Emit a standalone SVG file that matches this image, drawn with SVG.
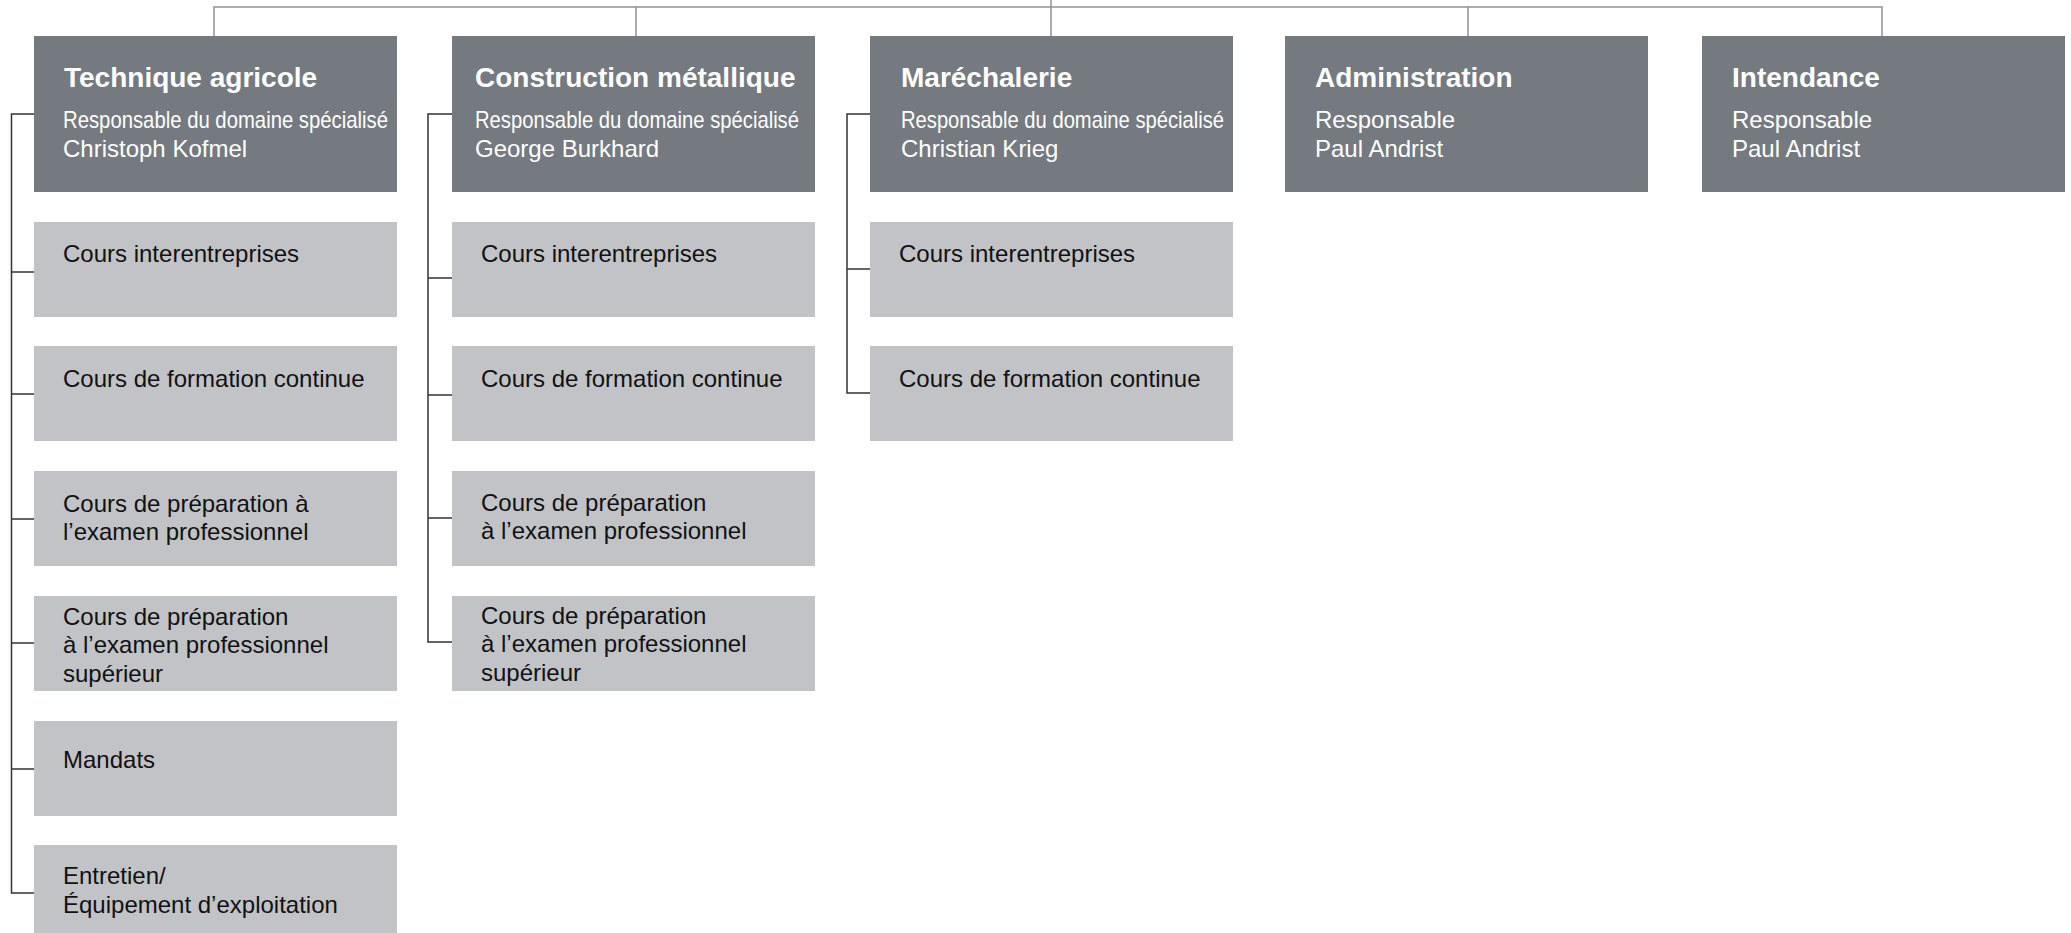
<svg xmlns="http://www.w3.org/2000/svg" width="2071" height="933" viewBox="0 0 2071 933">
<style>
.hd{fill:#747a80}
.ch{fill:#c2c3c6}
.t{font-family:"Liberation Sans",Arial,sans-serif;font-size:28px;font-weight:bold;fill:#ffffff}
.s{font-family:"Liberation Sans",Arial,sans-serif;font-size:24px;fill:#ffffff}
.c{font-family:"Liberation Sans",Arial,sans-serif;font-size:24px;fill:#111111}
.tree{fill:none;stroke:#8e9398;stroke-width:1.5}
.br{fill:none;stroke:#333333;stroke-width:1.5}
</style>
<rect width="2071" height="933" fill="#ffffff"/>
<g id="connectors">
<path class="tree" d="M214,36 V7 H1882 V36 M636,7 V36 M1051,0 V36 M1468,7 V36"/>
<path class="br" d="M34,114 H11.5 V893 H34 M11.5,272 H34 M11.5,394 H34 M11.5,519 H34 M11.5,643 H34 M11.5,769 H34"/>
<path class="br" d="M452,114 H428 V642 H452 M428,278 H452 M428,395 H452 M428,518 H452"/>
<path class="br" d="M870,114 H847 V393 H870 M847,269 H870"/>
</g>
<g id="technique-agricole">
<rect class="hd" x="34" y="36" width="363" height="156"/>
<text class="t" x="64" y="87">Technique agricole</text>
<text class="s" x="63" y="128" textLength="325" lengthAdjust="spacingAndGlyphs">Responsable du domaine spécialisé</text>
<text class="s" x="63" y="157">Christoph Kofmel</text>
</g>
<g id="ta-cours-inter">
<rect class="ch" x="34" y="222" width="363" height="95"/>
<text class="c" x="63" y="262">Cours interentreprises</text>
</g>
<g id="ta-formation-continue">
<rect class="ch" x="34" y="346" width="363" height="95"/>
<text class="c" x="63" y="387">Cours de formation continue</text>
</g>
<g id="ta-prep-examen">
<rect class="ch" x="34" y="471" width="363" height="95"/>
<text class="c" x="63" y="512">Cours de préparation à</text>
<text class="c" x="63" y="540">l’examen professionnel</text>
</g>
<g id="ta-prep-examen-sup">
<rect class="ch" x="34" y="596" width="363" height="95"/>
<text class="c" x="63" y="625">Cours de préparation</text>
<text class="c" x="63" y="653">à l’examen professionnel</text>
<text class="c" x="63" y="682">supérieur</text>
</g>
<g id="ta-mandats">
<rect class="ch" x="34" y="721" width="363" height="95"/>
<text class="c" x="63" y="768">Mandats</text>
</g>
<g id="ta-entretien">
<rect class="ch" x="34" y="845" width="363" height="95"/>
<text class="c" x="63" y="884">Entretien/</text>
<text class="c" x="63" y="913">Équipement d’exploitation</text>
</g>
<g id="construction-metallique">
<rect class="hd" x="452" y="36" width="363" height="156"/>
<text class="t" x="475" y="87">Construction métallique</text>
<text class="s" x="475" y="128" textLength="324" lengthAdjust="spacingAndGlyphs">Responsable du domaine spécialisé</text>
<text class="s" x="475" y="157">George Burkhard</text>
</g>
<g id="cm-cours-inter">
<rect class="ch" x="452" y="222" width="363" height="95"/>
<text class="c" x="481" y="262">Cours interentreprises</text>
</g>
<g id="cm-formation-continue">
<rect class="ch" x="452" y="346" width="363" height="95"/>
<text class="c" x="481" y="387">Cours de formation continue</text>
</g>
<g id="cm-prep-examen">
<rect class="ch" x="452" y="471" width="363" height="95"/>
<text class="c" x="481" y="511">Cours de préparation</text>
<text class="c" x="481" y="539">à l’examen professionnel</text>
</g>
<g id="cm-prep-examen-sup">
<rect class="ch" x="452" y="596" width="363" height="95"/>
<text class="c" x="481" y="624">Cours de préparation</text>
<text class="c" x="481" y="652">à l’examen professionnel</text>
<text class="c" x="481" y="681">supérieur</text>
</g>
<g id="marechalerie">
<rect class="hd" x="870" y="36" width="363" height="156"/>
<text class="t" x="901" y="87">Maréchalerie</text>
<text class="s" x="901" y="128" textLength="323" lengthAdjust="spacingAndGlyphs">Responsable du domaine spécialisé</text>
<text class="s" x="901" y="157">Christian Krieg</text>
</g>
<g id="ma-cours-inter">
<rect class="ch" x="870" y="222" width="363" height="95"/>
<text class="c" x="899" y="262">Cours interentreprises</text>
</g>
<g id="ma-formation-continue">
<rect class="ch" x="870" y="346" width="363" height="95"/>
<text class="c" x="899" y="387">Cours de formation continue</text>
</g>
<g id="administration">
<rect class="hd" x="1285" y="36" width="363" height="156"/>
<text class="t" x="1315" y="87">Administration</text>
<text class="s" x="1315" y="128">Responsable</text>
<text class="s" x="1315" y="157">Paul Andrist</text>
</g>
<g id="intendance">
<rect class="hd" x="1702" y="36" width="363" height="156"/>
<text class="t" x="1732" y="87">Intendance</text>
<text class="s" x="1732" y="128">Responsable</text>
<text class="s" x="1732" y="157">Paul Andrist</text>
</g>
</svg>
